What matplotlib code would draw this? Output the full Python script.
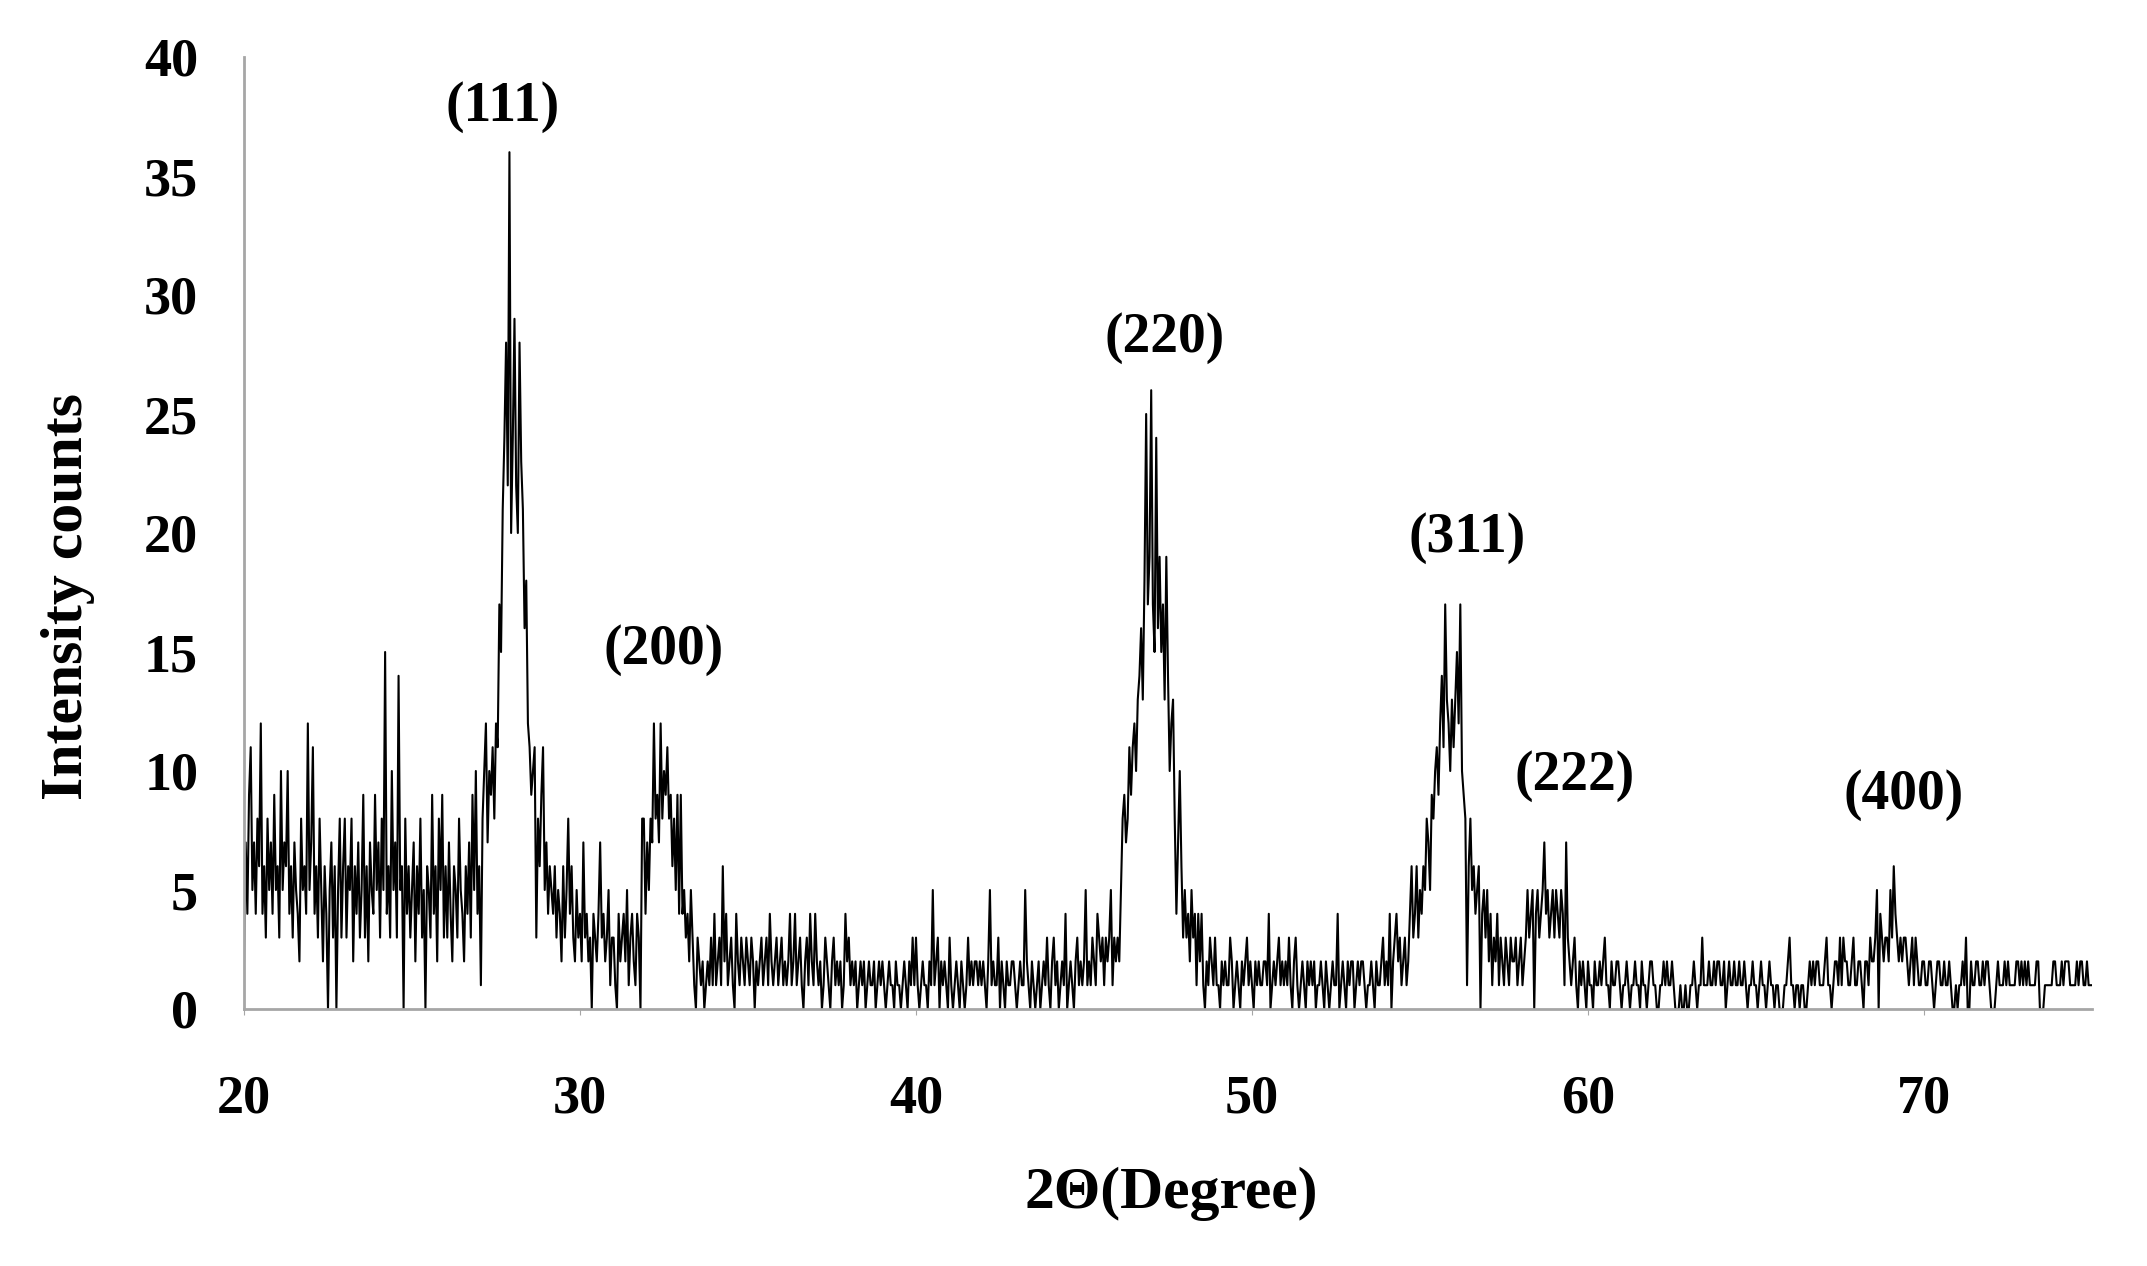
import numpy as np
from matplotlib import pyplot as plt

# XRD scan: 2-theta from 20 to 75 degrees, read every 0.05 degree
scan_start = 20.0
scan_step = 0.05

# intensity counts, one row per degree (20 readings each)
counts_20s = [
    2, 7, 4, 9, 11, 5, 7, 4, 8, 6, 12, 4, 6, 3, 8, 5, 7, 4, 9, 5,
    6, 3, 10, 5, 7, 6, 10, 4, 6, 3, 7, 5, 4, 2, 8, 5, 6, 4, 12, 5,
    7, 11, 4, 6, 3, 8, 5, 2, 6, 4, 0, 5, 7, 3, 6, 0, 5, 8, 3, 6,
    8, 3, 6, 5, 8, 2, 6, 4, 7, 3, 5, 9, 3, 6, 2, 7, 5, 4, 9, 5,
    7, 3, 8, 5, 15, 4, 6, 3, 10, 5, 7, 3, 14, 5, 6, 0, 8, 4, 6, 3,
    5, 7, 2, 6, 4, 8, 3, 5, 0, 6, 5, 3, 9, 4, 6, 2, 8, 5, 9, 3,
    6, 3, 7, 4, 2, 6, 5, 3, 8, 5, 4, 2, 6, 4, 7, 3, 9, 5, 10, 4,
    6, 1, 8, 10, 12, 7, 10, 9, 11, 8, 12, 11, 17, 15, 21, 24, 28, 22, 36, 20,
    24, 29, 22, 20, 28, 23, 21, 16, 18, 12, 11, 9, 10, 11, 3, 8, 6, 9, 11, 5,
    7, 4, 6, 5, 4, 6, 3, 5, 4, 2, 6, 3, 5, 8, 4, 6, 3, 2, 5, 3,
]
counts_30s = [
    4, 2, 7, 3, 4, 2, 3, 0, 4, 3, 2, 4, 7, 3, 4, 2, 3, 5, 1, 3,
    3, 1, 0, 4, 2, 3, 4, 2, 5, 1, 3, 4, 2, 1, 4, 3, 0, 8, 8, 4,
    7, 5, 8, 7, 12, 8, 9, 7, 12, 8, 10, 9, 11, 8, 9, 6, 8, 5, 9, 4,
    9, 4, 5, 3, 4, 2, 5, 3, 1, 0, 3, 2, 1, 2, 0, 1, 2, 1, 3, 1,
    4, 1, 2, 3, 1, 6, 2, 4, 1, 2, 3, 1, 0, 4, 2, 1, 3, 2, 1, 3,
    2, 1, 3, 2, 0, 2, 1, 2, 3, 1, 2, 3, 1, 4, 2, 1, 2, 3, 1, 2,
    3, 1, 2, 1, 2, 4, 1, 2, 4, 1, 2, 3, 1, 0, 2, 3, 1, 4, 2, 1,
    4, 2, 1, 2, 0, 1, 3, 2, 1, 0, 2, 3, 1, 2, 1, 2, 0, 1, 4, 2,
    3, 1, 2, 1, 2, 0, 1, 2, 1, 2, 0, 1, 2, 1, 1, 2, 0, 1, 2, 1,
    2, 1, 0, 1, 2, 1, 1, 0, 2, 1, 1, 0, 1, 2, 1, 0, 2, 1, 3, 1,
]
counts_40s = [
    3, 1, 0, 1, 2, 1, 1, 0, 2, 1, 5, 1, 2, 3, 0, 2, 1, 2, 1, 0,
    3, 1, 0, 1, 2, 1, 0, 2, 1, 0, 1, 3, 1, 2, 1, 2, 2, 1, 2, 1,
    2, 1, 0, 2, 5, 1, 2, 1, 1, 3, 0, 2, 1, 0, 2, 1, 1, 2, 2, 1,
    0, 1, 2, 1, 1, 5, 2, 1, 0, 2, 1, 0, 1, 2, 0, 1, 2, 1, 3, 1,
    0, 2, 3, 1, 2, 0, 1, 2, 1, 4, 0, 1, 2, 1, 0, 2, 3, 1, 2, 1,
    2, 5, 1, 2, 1, 3, 2, 1, 4, 3, 2, 3, 1, 3, 2, 3, 5, 1, 3, 2,
    3, 2, 5, 8, 9, 7, 8, 11, 9, 11, 12, 10, 13, 14, 16, 13, 18, 25, 17, 19,
    26, 17, 15, 24, 16, 19, 15, 17, 13, 19, 14, 10, 12, 13, 8, 4, 7, 10, 6, 3,
    5, 3, 4, 2, 5, 3, 4, 1, 4, 2, 4, 1, 0, 2, 1, 3, 2, 1, 3, 1,
    1, 0, 2, 1, 2, 1, 1, 3, 2, 0, 1, 2, 1, 0, 2, 1, 2, 3, 1, 2,
]
counts_50s = [
    1, 0, 2, 1, 2, 1, 1, 2, 2, 1, 4, 0, 1, 2, 1, 2, 3, 1, 2, 1,
    2, 1, 3, 1, 0, 2, 3, 1, 0, 1, 2, 1, 0, 2, 1, 2, 1, 2, 0, 1,
    1, 2, 1, 0, 2, 1, 0, 1, 2, 1, 1, 4, 0, 1, 2, 1, 0, 2, 1, 2,
    2, 0, 1, 2, 1, 2, 2, 1, 0, 1, 1, 2, 1, 0, 2, 1, 1, 2, 3, 1,
    2, 1, 4, 0, 2, 3, 4, 2, 3, 1, 2, 3, 1, 2, 4, 6, 3, 4, 6, 3,
    5, 4, 6, 5, 8, 7, 5, 9, 8, 10, 11, 9, 12, 14, 11, 17, 13, 12, 10, 13,
    11, 13, 15, 12, 17, 10, 9, 8, 1, 6, 8, 5, 6, 4, 5, 6, 0, 4, 5, 3,
    5, 2, 4, 1, 3, 2, 4, 1, 3, 2, 1, 3, 2, 1, 3, 2, 2, 3, 1, 2,
    3, 1, 2, 3, 5, 3, 4, 5, 0, 4, 5, 3, 4, 5, 7, 4, 5, 3, 4, 5,
    3, 5, 4, 3, 5, 4, 1, 7, 3, 2, 1, 2, 3, 1, 0, 2, 1, 2, 1, 0,
]
counts_60s = [
    2, 1, 1, 0, 2, 1, 1, 2, 1, 2, 3, 1, 1, 0, 2, 1, 1, 2, 2, 1,
    0, 1, 1, 2, 1, 0, 1, 1, 2, 1, 1, 0, 2, 1, 1, 0, 1, 2, 2, 1,
    1, 0, 0, 1, 1, 2, 1, 2, 1, 1, 2, 1, 0, 0, 0, 1, 0, 0, 1, 0,
    0, 1, 1, 2, 1, 0, 1, 1, 3, 1, 1, 1, 2, 1, 1, 2, 1, 2, 2, 1,
    1, 2, 0, 1, 2, 1, 1, 2, 1, 1, 2, 1, 1, 2, 1, 0, 1, 1, 2, 1,
    1, 0, 1, 2, 1, 1, 0, 1, 2, 1, 1, 0, 1, 1, 0, 0, 0, 1, 1, 2,
    3, 1, 1, 0, 1, 1, 0, 1, 1, 0, 0, 1, 2, 1, 2, 1, 2, 2, 1, 1,
    1, 2, 3, 1, 1, 0, 1, 2, 2, 1, 3, 1, 3, 2, 2, 1, 1, 2, 3, 1,
    1, 2, 2, 1, 0, 2, 2, 1, 3, 2, 2, 3, 5, 0, 4, 3, 2, 3, 3, 2,
    5, 3, 6, 4, 3, 2, 3, 2, 3, 3, 2, 1, 2, 3, 1, 3, 2, 1, 1, 2,
]
counts_70s = [
    2, 1, 1, 2, 2, 1, 0, 1, 2, 2, 1, 1, 2, 1, 1, 2, 1, 0, 0, 1,
    0, 1, 1, 2, 1, 3, 0, 0, 2, 1, 1, 2, 2, 1, 1, 2, 1, 2, 2, 1,
    0, 0, 0, 1, 2, 1, 1, 1, 2, 1, 2, 1, 1, 1, 1, 2, 2, 1, 2, 1,
    2, 1, 2, 1, 1, 1, 1, 2, 2, 0, 0, 0, 1, 1, 1, 1, 1, 2, 2, 1,
    1, 1, 2, 1, 2, 2, 2, 1, 1, 1, 1, 2, 1, 2, 2, 1, 1, 2, 1, 1,
    1,
]

# peak labels (Miller indices) and where they sit
peak_labels = ['(111)', '(200)', '(220)', '(311)', '(222)', '(400)']
label_x = [27.7, 32.5, 47.4, 56.4, 59.6, 69.4]
label_y = [37.9, 15.1, 28.2, 19.8, 9.8, 9.0]

counts = counts_20s + counts_30s + counts_40s + counts_50s + counts_60s + counts_70s
two_theta = scan_start + scan_step * np.arange(len(counts))

font = 'Liberation Serif'

fig = plt.figure(figsize=(21.47, 12.66), dpi=100)
ax = fig.add_axes([244 / 2147, 1 - 1009 / 1266, 1848 / 2147, 952 / 1266])

ax.plot(two_theta, counts, color='black', lw=1.5)

ax.set_xlim(20, 75)
ax.set_ylim(0, 40)
ax.set_xticks([20, 30, 40, 50, 60, 70])
ax.set_yticks(range(0, 41, 5))

for side in ['top', 'right']:
    ax.spines[side].set_visible(False)
for side in ['left', 'bottom']:
    ax.spines[side].set_color('#a6a6a6')
    ax.spines[side].set_linewidth(2)

ax.tick_params(axis='x', length=4, color='#a6a6a6', pad=43)
ax.tick_params(axis='y', length=0, pad=33)
for lab in ax.get_xticklabels() + ax.get_yticklabels():
    lab.set_fontfamily(font)
    lab.set_fontweight('bold')
    lab.set_fontsize(39)

for text, x, y in zip(peak_labels, label_x, label_y):
    ax.text(x, y, text, ha='center', va='center', fontsize=40,
            fontweight='bold', family=font)

fig.text(1171 / 2147, 1 - 1194 / 1266, '2Θ(Degree)', ha='center', va='center',
         fontsize=43, fontweight='bold', family=font)
fig.text(68 / 2147, 1 - 596 / 1266, 'Intensity counts', ha='center', va='center',
         rotation=90, fontsize=43, fontweight='bold', family=font)

plt.savefig('out.png')
